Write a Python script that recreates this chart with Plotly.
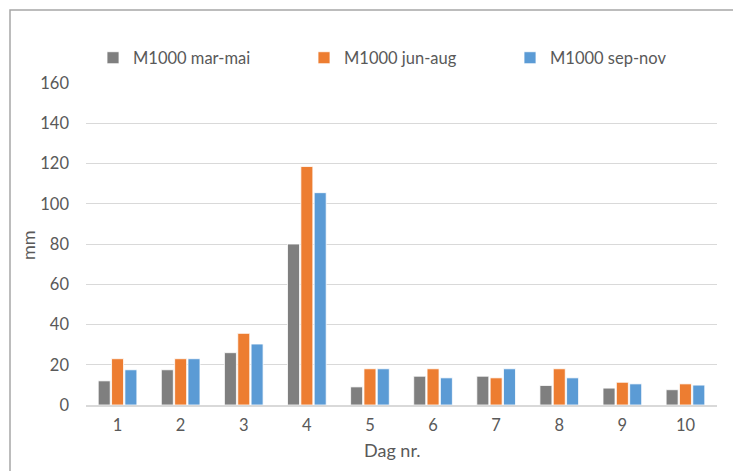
import plotly.graph_objects as go

# Day numbers along the x axis
days = ["1", "2", "3", "4", "5", "6", "7", "8", "9", "10"]

# Precipitation (mm) per season
mar_mai = [12, 17.5, 26, 80, 9, 14.3, 14.3, 9.7, 8.4, 7.6]
jun_aug = [23, 23, 35.6, 118.5, 18, 18, 13.5, 18, 11.3, 10.5]
sep_nov = [17.5, 23, 30.3, 105.5, 18, 13.5, 18, 13.5, 10.5, 9.9]

series_names = ["M1000 mar-mai", "M1000 jun-aug", "M1000 sep-nov"]
colors = ["#7F7F7F", "#ED7D31", "#5B9BD5"]
y_ticks = [0, 20, 40, 60, 80, 100, 120, 140, 160]

FONT = "Lato"
TXT = "#595959"
TICK_SIZE = 16.5
TITLE_SIZE = 18

W, H = 733, 471
L, R, T, B = 86, 16, 83, 66
pw, ph = W - L - R, H - T - B


def px_to_paper_x(px):
    return (px - L) / pw


def px_to_paper_y(py):
    return (H - B - py) / ph


fig = go.Figure()
legend_ids = ["legend", "legend2", "legend3"]
for name, vals, col, lid in zip(series_names, [mar_mai, jun_aug, sep_nov], colors, legend_ids):
    fig.add_trace(go.Bar(
        x=days, y=vals, name=name,
        marker=dict(color=col, line=dict(color="white", width=0.8)),
        legend=lid, showlegend=True,
    ))

legend_left = [93, 304, 510]
legend_common = dict(
    orientation="h", xanchor="left", yanchor="middle",
    y=px_to_paper_y(58), font=dict(family=FONT, size=TICK_SIZE, color=TXT),
    bgcolor="rgba(0,0,0,0)", itemwidth=30, visible=True,
)
fig.update_layout(
    showlegend=True,
    legend=dict(x=px_to_paper_x(legend_left[0]), **legend_common),
    legend2=dict(x=px_to_paper_x(legend_left[1]), **legend_common),
    legend3=dict(x=px_to_paper_x(legend_left[2]), **legend_common),
)

fig.update_layout(
    width=W, height=H,
    margin=dict(l=L, r=R, t=T, b=B, autoexpand=False),
    paper_bgcolor="white", plot_bgcolor="white",
    barmode="group", bargap=0.366, bargroupgap=0.1,
    font=dict(family=FONT, size=TICK_SIZE, color=TXT),
    xaxis=dict(
        type="category", showgrid=False, zeroline=False,
        showline=True, linecolor="#D9D9D9", linewidth=1.5,
        ticks="", ticklabelstandoff=4,
        tickfont=dict(family=FONT, size=TICK_SIZE, color=TXT),
    ),
    yaxis=dict(
        range=[0, 160], tickvals=y_ticks, showgrid=True,
        gridcolor="#D9D9D9", gridwidth=1.2, zeroline=False,
        showline=False, ticks="", ticklabelstandoff=16,
        tickfont=dict(family=FONT, size=TICK_SIZE, color=TXT),
    ),
    annotations=[
        dict(text="mm", x=px_to_paper_x(28), y=px_to_paper_y(245),
             xref="paper", yref="paper", showarrow=False, textangle=-90,
             xanchor="center", yanchor="middle",
             font=dict(family=FONT, size=TITLE_SIZE, color=TXT)),
        dict(text="Dag nr.", x=px_to_paper_x(392), y=px_to_paper_y(450),
             xref="paper", yref="paper", showarrow=False,
             xanchor="center", yanchor="middle",
             font=dict(family=FONT, size=TITLE_SIZE, color=TXT)),
    ],
    shapes=[
        dict(type="rect", xref="paper", yref="paper",
             x0=px_to_paper_x(10), x1=px_to_paper_x(740),
             y0=px_to_paper_y(480), y1=px_to_paper_y(10),
             line=dict(color="#A6A6A6", width=1.5), fillcolor="rgba(0,0,0,0)",
             layer="below"),
    ],
)

fig.write_html("out.html")
